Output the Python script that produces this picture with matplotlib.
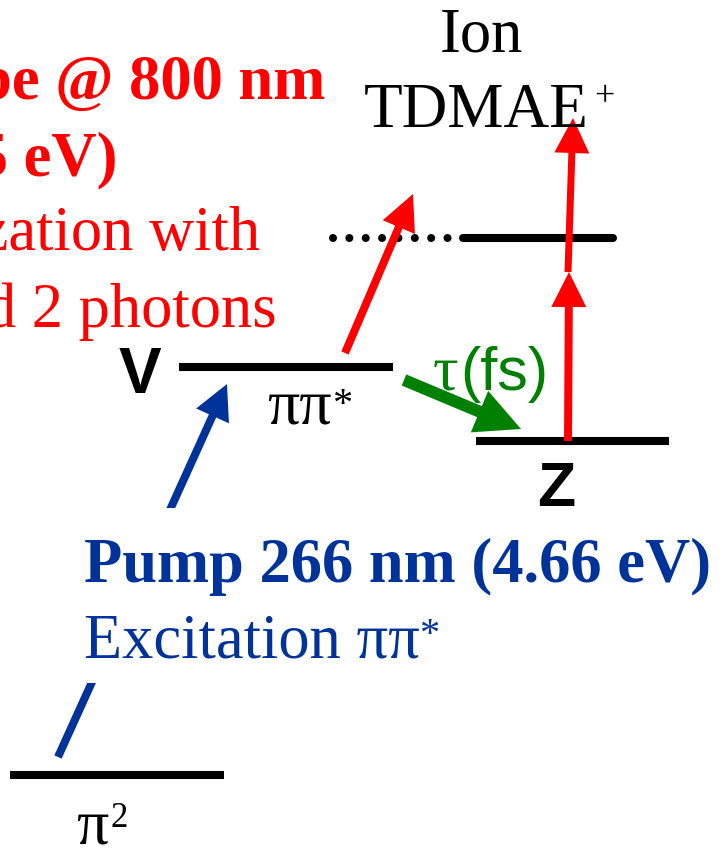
import matplotlib
matplotlib.use("Agg")
import matplotlib.pyplot as plt
from matplotlib.patches import FancyArrow, Rectangle

# ---- diagram data (canvas pixel units, y grows downward) ----
level_names = ["pi2", "V", "Z", "ion"]
level_x0 = [10, 179, 476, 463]
level_x1 = [224, 393, 669, 613]
level_y = [775, 367, 441, 238]
level_caps = ["butt", "butt", "butt", "round"]

# dotted virtual-level extension left of the ion line
dots_x = [333, 450]
dots_y = [238, 238]

# transitions: (tail, tip)
pump_arrow = [(58, 757), (227, 384)]
decay_arrow = [(404, 380), (521, 429)]
probe_diag_arrow = [(345, 353), (413, 194)]
probe_step1_arrow = [(568, 441), (569, 272)]
probe_step2_arrow = [(568, 272), (573, 118)]

probe_lines = ["Probe @ 800 nm", "(1.55 eV)", "Ionization with", "1 and 2 photons"]
probe_bold = [True, True, False, False]
pump_lines = ["Pump 266 nm (4.66 eV)", "Excitation \u03c0\u03c0"]

RED = "#FF0000"
BLUE = "#003399"
GREEN = "#008000"
SERIF = "Liberation Serif"
SANS = "Liberation Sans"

fig = plt.figure(figsize=(7.23, 8.48), dpi=100)
ax = fig.add_axes([0, 0, 1, 1])
ax.set_xlim(0, 723)
ax.set_ylim(848, 0)
ax.axis("off")

LW = 5.8  # level line width in points

# energy levels
for x0, x1, y, cap in zip(level_x0, level_x1, level_y, level_caps):
    ax.plot([x0, x1], [y, y], color="black", lw=LW,
            solid_capstyle=cap, zorder=3)

ax.plot(dots_x, dots_y, color="black", lw=LW,
        linestyle=(0, (0.001, 2.03)), dash_capstyle="round", zorder=3)


def arrow(seg, color, width, head_w, head_l, z=4):
    (x0, y0), (x1, y1) = seg
    ax.add_patch(FancyArrow(x0, y0, x1 - x0, y1 - y0, width=width,
                            head_width=head_w, head_length=head_l,
                            length_includes_head=True, color=color,
                            lw=0, zorder=z))


arrow(pump_arrow, BLUE, 8, 36, 35, z=1)
arrow(decay_arrow, GREEN, 12, 45, 45)
arrow(probe_diag_arrow, RED, 8, 35, 36)
arrow(probe_step1_arrow, RED, 8, 35, 35)
arrow(probe_step2_arrow, RED, 7, 35, 35)

# white text box of the pump label masks the pump arrow
ax.add_patch(Rectangle((0, 508), 723, 175, facecolor="white",
                       edgecolor="none", zorder=2))

# ion label
ax.text(481, 51, "Ion", family=SERIF, fontsize=45, ha="center",
        va="baseline", zorder=5)
ax.text(364, 127, "TDMAE", family=SERIF, fontsize=45.5, ha="left",
        va="baseline", zorder=5)
ax.text(594, 106, "+", family=SERIF, fontsize=26, ha="left",
        va="baseline", zorder=5)

# probe description
probe_base = [99, 175, 250, 327]
probe_right = [325, 117, 260, 277]
for txt, bold, yb, xr in zip(probe_lines, probe_bold, probe_base, probe_right):
    ax.text(xr, yb, txt, family=SERIF, fontsize=45, color=RED,
            weight="bold" if bold else "normal", ha="right",
            va="baseline", zorder=5)

# state labels
ax.text(140, 393, "V", family=SANS, fontsize=46, weight="bold",
        ha="center", va="baseline", zorder=5)
ax.text(556, 506, "Z", family=SANS, fontsize=45, weight="bold",
        ha="center", va="baseline", zorder=5)
ax.text(267, 423, "\u03c0\u03c0", family=SERIF, fontsize=46,
        ha="left", va="baseline", zorder=5)
ax.text(332, 415, "*", family=SERIF, fontsize=29, ha="left",
        va="baseline", zorder=5)
ax.text(76, 843, "\u03c0", family=SERIF, fontsize=46, ha="left",
        va="baseline", zorder=5)
ax.text(111, 827, "2", family=SERIF, fontsize=25, ha="left",
        va="baseline", zorder=5)

# decay time label
ax.text(433, 390, "\u03c4", family=SERIF, fontsize=46, color=GREEN,
        ha="left", va="baseline", zorder=5)
ax.text(460, 390, "(fs)", family=SANS, fontsize=44, color=GREEN,
        ha="left", va="baseline", zorder=5)

# pump description
ax.text(84, 582, pump_lines[0], family=SERIF, fontsize=45, weight="bold",
        color=BLUE, ha="left", va="baseline", zorder=5)
ax.text(84, 658, pump_lines[1], family=SERIF, fontsize=45,
        color=BLUE, ha="left", va="baseline", zorder=5)
ax.text(419, 645, "*", family=SERIF, fontsize=29, color=BLUE,
        ha="left", va="baseline", zorder=5)

fig.savefig("out.png", dpi=100)
